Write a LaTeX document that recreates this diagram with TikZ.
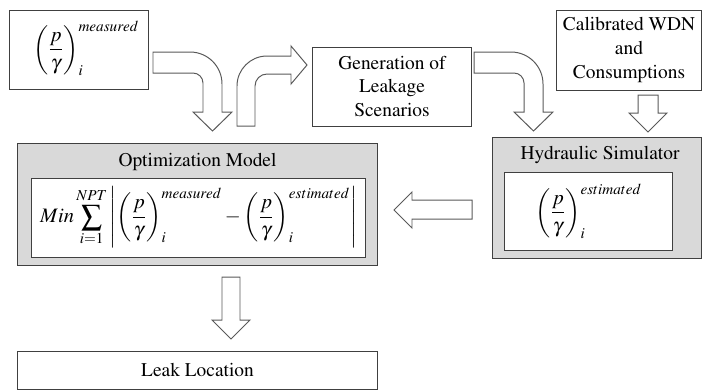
\documentclass[tikz,border=0pt]{standalone}
\usepackage[T1]{fontenc}
\usepackage{mathptmx}

\begin{document}
\begin{tikzpicture}[
    x=0.025cm, y=-0.025cm,
    font=\fontsize{13.8}{17}\selectfont,
    caja/.style={draw=black!75,line width=0.7pt,fill=white,
                 align=center,inner sep=0pt},
    marco/.style={draw=black!75,line width=0.7pt,fill=black!15,inner sep=0pt},
    formula/.style={font=\fontsize{14.6}{18}\selectfont},
    flecha/.style={draw=black!65,line width=0.7pt,fill=white,line join=miter}]

  \useasboundingbox (0,0) rectangle (702,391);

  \node[caja,minimum width=3.45cm,minimum height=1.975cm] (med) at (79,49.5) {};
  \node[formula] (medtxt) at (86,48)
    {$\displaystyle\left(\frac{p}{\gamma}\right)_{i}^{measured}$};
  \node[caja,minimum width=3.95cm,minimum height=1.975cm] (gen) at (392,86.5)
    {Generation of\\Leakage\\Scenarios};
  \node[caja,minimum width=3.6cm,minimum height=2cm] (calib) at (629,50)
    {Calibrated WDN\\and\\Consumptions};

  \node[marco,minimum width=8.975cm,minimum height=3.05cm] (optim) at (197.5,204) {};
  \node (optimtit) at (197.5,162) {Optimization Model};
  \node[caja,formula,minimum width=8.325cm,minimum height=1.975cm] (optimin) at (198.5,217.5)
    {$\displaystyle Min\sum_{i=1}^{NPT}\left|\left(\frac{p}{\gamma}\right)_{i}^{measured}
      -\left(\frac{p}{\gamma}\right)_{i}^{estimated}\right|$};

  \node[marco,minimum width=5.2cm,minimum height=3.025cm] (hidro) at (597,197.5) {};
  \node (hidrotit) at (600,155) {Hydraulic Simulator};
  \node[caja,formula,minimum width=4.175cm,minimum height=1.95cm] (hidroin) at (588.5,211)
    {$\displaystyle\left(\frac{p}{\gamma}\right)_{i}^{estimated}$};

  \node[caja,minimum width=8.975cm,minimum height=0.95cm] (fuga) at (197.5,370)
    {Leak Location};

  \draw[flecha] (153,52) -- (190,52) .. controls (207.7,52) and (222,66.3) .. (222,84)
    -- (222,112) -- (232,112) -- (212.5,131) -- (193,112) -- (203,112) -- (203,83)
    .. controls (203,77.5) and (198.5,73) .. (193,73) -- (153,73) -- cycle;
  \draw[flecha] (237,126) -- (237,86) .. controls (237,69.4) and (250.4,56) .. (267,56)
    -- (291,56) -- (291,46) -- (307,65) -- (291,84) -- (291,74) -- (267,74)
    .. controls (260.4,74) and (255,79.4) .. (255,86) -- (255,126) -- cycle;
  \begin{scope}[shift={(321,0)}]
    \draw[flecha] (153,52) -- (190,52) .. controls (207.7,52) and (222,66.3) .. (222,84)
      -- (222,112) -- (232,112) -- (212.5,131) -- (193,112) -- (203,112) -- (203,83)
      .. controls (203,77.5) and (198.5,73) .. (193,73) -- (153,73) -- cycle;
  \end{scope}

  \draw[flecha] (638,95) -- (638,113) -- (629,113) -- (648,132) -- (667,113)
    -- (658,113) -- (658,95) -- cycle;
  \draw[flecha] (472,200) -- (412,200) -- (412,192) -- (394,210) -- (412,228)
    -- (412,219) -- (472,219) -- cycle;
  \draw[flecha] (222,277) -- (222,320) -- (212,320) -- (231,339) -- (250,320)
    -- (240,320) -- (240,277) -- cycle;

\end{tikzpicture}
\end{document}
